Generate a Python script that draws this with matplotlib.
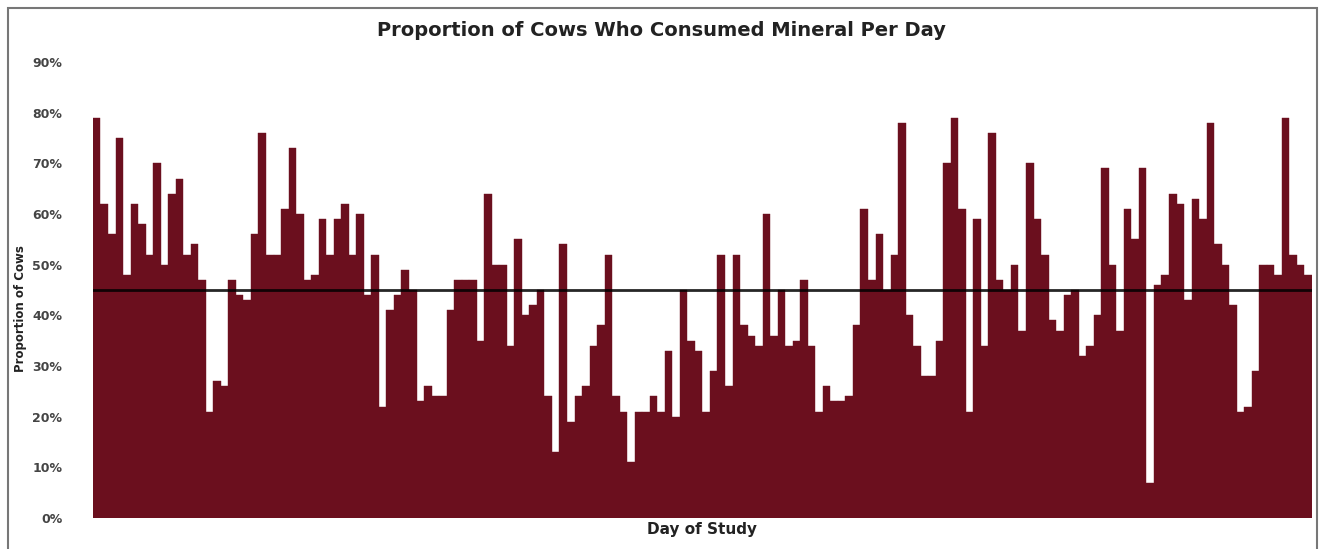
"""
Proportion of cows who consumed mineral per day (bar chart with mean line).
"""
import numpy as np
import matplotlib.pyplot as plt
from matplotlib.patches import Rectangle
from matplotlib.ticker import PercentFormatter

# daily proportions (%)
proportion_pct = [
    79, 62, 56, 75, 48, 62, 58, 52, 70, 50, 64, 67, 52, 54, 47, 21, 27, 26, 47, 44,
    43, 56, 76, 52, 52, 61, 73, 60, 47, 48, 59, 52, 59, 62, 52, 60, 44, 52, 22, 41,
    44, 49, 45, 23, 26, 24, 24, 41, 47, 47, 47, 35, 64, 50, 50, 34, 55, 40, 42, 45,
    24, 13, 54, 19, 24, 26, 34, 38, 52, 24, 21, 11, 21, 21, 24, 21, 33, 20, 45, 35,
    33, 21, 29, 52, 26, 52, 38, 36, 34, 60, 36, 45, 34, 35, 47, 34, 21, 26, 23, 23,
    24, 38, 61, 47, 56, 45, 52, 78, 40, 34, 28, 28, 35, 70, 79, 61, 21, 59, 34, 76,
    47, 45, 50, 37, 70, 59, 52, 39, 37, 44, 45, 32, 34, 40, 69, 50, 37, 61, 55, 69,
    7, 46, 48, 64, 62, 43, 63, 59, 78, 54, 50, 42, 21, 22, 29, 50, 50, 48, 79, 52,
    50, 48,
]
mean_line = 0.45
y_ticks = [0.0, 0.1, 0.2, 0.3, 0.4, 0.5, 0.6, 0.7, 0.8, 0.9]

BAR_COLOR = "#6b0f1e"
TEXT_COLOR = "#222222"

values = np.array(proportion_pct) / 100.0
days = np.arange(len(values))

fig = plt.figure(figsize=(13.22, 5.49), dpi=100)
ax = fig.add_axes([0.0703, 0.0565, 0.9221, 0.8306])

ax.bar(days, values, width=1.0, color=BAR_COLOR, edgecolor=BAR_COLOR, linewidth=0.3)
ax.axhline(mean_line, color="black", linewidth=2.0, alpha=0.85)

ax.set_xlim(-0.5, len(values) - 0.5)
ax.set_ylim(0, 0.9)
ax.set_yticks(y_ticks)
ax.yaxis.set_major_formatter(PercentFormatter(1.0, decimals=0))
ax.set_xticks([])
ax.tick_params(axis="y", length=0, pad=22, labelsize=9, labelcolor="#444444")
for lbl in ax.get_yticklabels():
    lbl.set_fontweight("bold")
for s in ax.spines.values():
    s.set_visible(False)

ax.set_ylabel("Proportion of Cows", fontsize=8.5, fontweight="bold", color=TEXT_COLOR)
ax.yaxis.set_label_coords(-0.054, 0.46)
ax.set_xlabel("Day of Study", fontsize=11, fontweight="bold",
              color=TEXT_COLOR, labelpad=3)
fig.text(0.5, 0.945, "Proportion of Cows Who Consumed Mineral Per Day",
         ha="center", va="center", fontsize=14, fontweight="bold", color=TEXT_COLOR)

# outer frame around the whole chart
fig.patches.append(Rectangle((0.006, -0.01), 0.99, 0.995, transform=fig.transFigure,
                             fill=False, edgecolor="#777777", linewidth=1.5))

plt.savefig("out.png", dpi=100)
plt.close()
